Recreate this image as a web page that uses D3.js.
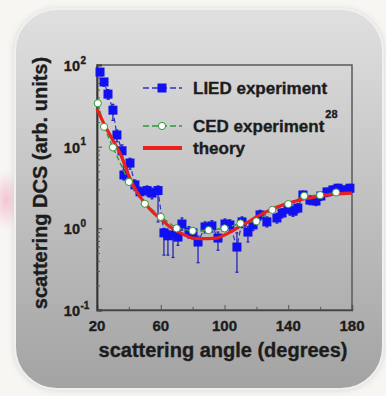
<!DOCTYPE html>
<html>
<head>
<meta charset="utf-8">
<script src="https://cdn.jsdelivr.net/npm/d3@7"></script>
<style>
  html, body { margin: 0; padding: 0; background: #f8f6f2; }
  svg { display: block; }
  text { font-family: "Liberation Sans", Arial, sans-serif; font-weight: bold; fill: #1c1c1c;
         stroke: #1c1c1c; stroke-width: 0.35; }
</style>
</head>
<body>
<svg id="chart" width="386" height="396"></svg>
<script>
// LIED measurement: angle (deg), DCS value, lower / upper error bounds
const liedAngle = [21.9, 24.4, 26.9, 30.0, 32.5, 35.7, 36.9, 40.7, 43.8, 47.0, 51.4, 54.5, 58.3,
  62.0, 64.5, 67.7, 70.8, 73.3, 77.7, 80.2, 83.4, 87.8, 92.1, 95.9, 100.3, 103.4, 107.8,
  111.0, 114.7, 117.9, 122.3, 126.6, 132.9, 136.1, 139.8, 143.0, 146.0, 149.2, 153.6,
  157.4, 160.5, 164.3, 168.0, 171.2, 175.0, 178.7];
const liedValue = [82, 62, 44, 28, 13.9, 8.9, 4.5, 6.3, 3.4, 2.8, 2.9, 2.7, 2.9,
  0.88, 0.81, 0.83, 0.78, 1.13, 0.90, 0.88, 0.68, 1.04, 1.07, 0.76, 1.13, 1.10, 0.59,
  1.20, 0.90, 1.10, 1.46, 1.20, 1.34, 1.54, 1.75, 1.62, 1.77, 2.56, 2.22,
  2.16, 2.49, 2.79, 2.95, 3.10, 2.95, 3.10];
const liedLow = [74, 55, 38, 21, 11.5, 7.5, 3.9, 5.3, 2.9, 2.4, 2.5, 2.3, 1.2,
  0.47, 0.47, 0.44, 0.62, 0.95, 0.76, 0.74, 0.38, 0.88, 0.90, 0.54, 0.96, 0.93, 0.29,
  1.02, 0.68, 0.94, 1.26, 1.04, 1.16, 1.34, 1.52, 1.40, 1.55, 2.25, 1.95,
  1.90, 2.20, 2.45, 2.60, 2.75, 2.60, 2.75];
const liedHigh = [90, 68, 50, 33, 16, 10.5, 5.2, 7.2, 3.9, 3.2, 3.3, 3.1, 3.3,
  1.00, 0.95, 0.97, 0.92, 1.34, 1.05, 1.02, 0.80, 1.20, 1.24, 0.90, 1.30, 1.27, 0.88,
  1.38, 1.05, 1.26, 1.66, 1.38, 1.52, 1.74, 2.00, 1.84, 2.00, 2.85, 2.50,
  2.42, 2.78, 3.10, 3.30, 3.45, 3.30, 3.45];

// CED reference measurement
const cedAngle = [20.5, 24.4, 30, 40, 50, 60, 70, 80, 90, 100, 110, 120, 130, 140, 150, 160, 170];
const cedValue = [34, 17.5, 9.8, 3.7, 2.0, 1.38, 1.0, 0.93, 0.95, 1.0, 1.15, 1.22, 1.68, 1.98, 2.5, 2.55, 2.75];

// Theoretical DCS
const theoryAngle = [20, 25, 30, 35, 40, 45, 50, 55, 60, 65, 70, 75, 80, 85, 90, 95, 100, 105,
  110, 115, 120, 125, 130, 135, 140, 145, 150, 155, 160, 165, 170, 175, 180];
const theoryValue = [29, 18, 12, 7.9, 4.4, 2.8, 2.04, 1.58, 1.3, 1.07, 0.93, 0.83, 0.76, 0.75, 0.75,
  0.76, 0.83, 0.93, 1.07, 1.2, 1.38, 1.55, 1.73, 1.88, 2.04, 2.16, 2.3, 2.38, 2.5, 2.57, 2.62, 2.68, 2.7];

// Axis ticks
const xTickValues = [20, 60, 100, 140, 180];
const xMinorTicks = [40, 80, 120, 160];
const yTickValues = [0.1, 1, 10, 100];
const yTickExponents = ["-1", "0", "1", "2"];

// Legend entries
const legendLabels = ["LIED experiment", "CED experiment", "theory"];
const legendSup = ["", "28", ""];

const svg = d3.select("#chart");
const defs = svg.append("defs");

// panel gradient and shadow
const grad = defs.append("linearGradient").attr("id", "panelGrad")
  .attr("x1", 0).attr("y1", 0).attr("x2", 0).attr("y2", 1);
grad.append("stop").attr("offset", "0%").attr("stop-color", "#e0e0e0");
grad.append("stop").attr("offset", "45%").attr("stop-color", "#c4c4c4");
grad.append("stop").attr("offset", "100%").attr("stop-color", "#a3a3a3");

const shadow = defs.append("filter").attr("id", "shadow")
  .attr("x", "-10%").attr("y", "-10%").attr("width", "120%").attr("height", "120%");
shadow.append("feGaussianBlur").attr("stdDeviation", 3);

const pinkGlow = defs.append("radialGradient").attr("id", "pinkGlow");
pinkGlow.append("stop").attr("offset", "0%").attr("stop-color", "#f2b8cc").attr("stop-opacity", 0.8);
pinkGlow.append("stop").attr("offset", "100%").attr("stop-color", "#f2b8cc").attr("stop-opacity", 0);

svg.append("ellipse").attr("cx", 6).attr("cy", 200).attr("rx", 14).attr("ry", 30)
  .attr("fill", "url(#pinkGlow)");

svg.append("rect").attr("x", 14).attr("y", 9).attr("width", 370).attr("height", 381)
  .attr("rx", 43).attr("fill", "#a0a0a0").attr("opacity", 0.4).attr("filter", "url(#shadow)");
svg.append("rect").attr("x", 15).attr("y", 9).attr("width", 368).attr("height", 380)
  .attr("rx", 42).attr("fill", "url(#panelGrad)")
  .attr("stroke", "#f0f0f0").attr("stroke-width", 2);

// scales
const x = d3.scaleLinear().domain([20, 180]).range([97, 352]);
const y = d3.scaleLog().domain([0.1, 100]).range([310, 65]);

// frame
svg.append("rect").attr("x", x(20)).attr("y", y(100))
  .attr("width", x(180) - x(20)).attr("height", y(0.1) - y(100))
  .attr("fill", "none").attr("stroke", "#5a5a5a").attr("stroke-width", 1.5);

// bottom axis: inward ticks
svg.append("g").attr("transform", `translate(0,${y(0.1)})`)
  .call(d3.axisBottom(x).tickValues(xTickValues).tickSize(-5).tickFormat(""))
  .call(g => g.select(".domain").attr("stroke", "#444").attr("stroke-width", 1.5))
  .call(g => g.selectAll(".tick line").attr("stroke", "#555"));
svg.append("g").attr("transform", `translate(0,${y(0.1)})`)
  .call(d3.axisBottom(x).tickValues(xMinorTicks).tickSize(-3).tickFormat(""))
  .call(g => g.select(".domain").remove())
  .call(g => g.selectAll(".tick line").attr("stroke", "#555"));

// left axis: inward decade and minor ticks
const minorY = [];
for (let e = -1; e < 2; e++) for (let m = 2; m < 10; m++) minorY.push(m * Math.pow(10, e));
svg.append("g").attr("transform", `translate(${x(20)},0)`)
  .call(d3.axisLeft(y).tickValues(yTickValues).tickSize(-5).tickFormat(""))
  .call(g => g.select(".domain").attr("stroke", "#333").attr("stroke-width", 1.8))
  .call(g => g.selectAll(".tick line").attr("stroke", "#444"));
svg.append("g").attr("transform", `translate(${x(20)},0)`)
  .call(d3.axisLeft(y).tickValues(minorY).tickSize(-3).tickFormat(""))
  .call(g => g.select(".domain").remove())
  .call(g => g.selectAll(".tick line").attr("stroke", "#555"));

// x tick labels
svg.append("g").selectAll("text").data(xTickValues).join("text")
  .attr("x", d => x(d)).attr("y", 331).attr("text-anchor", "middle")
  .attr("font-size", 15).text(d => d);

// y tick labels as powers of ten
const yl = svg.append("g").selectAll("g").data(yTickValues).join("g");
yl.append("text").attr("x", 80).attr("y", d => y(d) + 6).attr("text-anchor", "end")
  .attr("font-size", 14.5).text("10");
yl.append("text").attr("x", 80.5).attr("y", d => y(d) - 1.5).attr("text-anchor", "start")
  .attr("font-size", 10).text((d, i) => yTickExponents[i]);

// axis titles
svg.append("text").attr("x", 223).attr("y", 357).attr("text-anchor", "middle")
  .attr("font-size", 20).text("scattering angle (degrees)");
svg.append("text").attr("transform", "translate(47,183) rotate(-90)")
  .attr("text-anchor", "middle").attr("font-size", 20).text("scattering DCS (arb. units)");

const blue = "#1010f0", green = "#2e9a3a", red = "#e8201e";

// LIED series
const lied = liedAngle.map((a, i) => ({ a, v: liedValue[i], lo: liedLow[i], hi: liedHigh[i] }));
const eb = svg.append("g").attr("stroke", "#2626b8").attr("stroke-width", 1.3);
eb.selectAll("line.v").data(lied).join("line").attr("class", "v")
  .attr("x1", d => x(d.a)).attr("x2", d => x(d.a))
  .attr("y1", d => y(d.lo)).attr("y2", d => y(d.hi));
eb.selectAll("line.c1").data(lied).join("line").attr("class", "c1")
  .attr("x1", d => x(d.a) - 1.5).attr("x2", d => x(d.a) + 1.5)
  .attr("y1", d => y(d.lo)).attr("y2", d => y(d.lo));
eb.selectAll("line.c2").data(lied).join("line").attr("class", "c2")
  .attr("x1", d => x(d.a) - 1.5).attr("x2", d => x(d.a) + 1.5)
  .attr("y1", d => y(d.hi)).attr("y2", d => y(d.hi));

svg.append("path").datum(lied)
  .attr("d", d3.line().x(d => x(d.a)).y(d => y(d.v)))
  .attr("fill", "none").attr("stroke", "#3030c8").attr("stroke-width", 1.2)
  .attr("stroke-dasharray", "5,3");
svg.append("g").selectAll("rect").data(lied).join("rect")
  .attr("x", d => x(d.a) - 4.5).attr("y", d => y(d.v) - 4.5)
  .attr("width", 9).attr("height", 9).attr("fill", blue);

// CED series
const ced = cedAngle.map((a, i) => ({ a, v: cedValue[i] }));
svg.append("path").datum(ced)
  .attr("d", d3.line().x(d => x(d.a)).y(d => y(d.v)))
  .attr("fill", "none").attr("stroke", green).attr("stroke-width", 1.5)
  .attr("stroke-dasharray", "5,3");

// theory curve
const theory = theoryAngle.map((a, i) => ({ a, v: theoryValue[i] }));
svg.append("path").datum(theory)
  .attr("d", d3.line().curve(d3.curveMonotoneX).x(d => x(d.a)).y(d => y(d.v)))
  .attr("fill", "none").attr("stroke", red).attr("stroke-width", 3.2);

svg.append("g").selectAll("circle").data(ced).join("circle")
  .attr("cx", d => x(d.a)).attr("cy", d => y(d.v)).attr("r", 3.6)
  .attr("fill", "#ffffff").attr("stroke", green).attr("stroke-width", 1);

// legend
const legY = [88, 126, 148];
const lg = svg.append("g");
lg.append("line").attr("x1", 143).attr("x2", 182).attr("y1", legY[0]).attr("y2", legY[0])
  .attr("stroke", "#3030c8").attr("stroke-width", 1.4).attr("stroke-dasharray", "6,3");
lg.append("rect").attr("x", 157.5).attr("y", legY[0] - 4.5).attr("width", 9).attr("height", 9).attr("fill", blue);
lg.append("line").attr("x1", 143).attr("x2", 182).attr("y1", legY[1]).attr("y2", legY[1])
  .attr("stroke", green).attr("stroke-width", 1.6).attr("stroke-dasharray", "6,3");
lg.append("circle").attr("cx", 162).attr("cy", legY[1]).attr("r", 3.6)
  .attr("fill", "#fff").attr("stroke", green);
lg.append("line").attr("x1", 143).attr("x2", 182).attr("y1", legY[2]).attr("y2", legY[2])
  .attr("stroke", red).attr("stroke-width", 4);
legendLabels.forEach((t, i) => {
  const tx = lg.append("text").attr("x", 193).attr("y", legY[i] + 6).attr("font-size", 17).text(t);
  if (legendSup[i]) {
    const w = tx.node().getComputedTextLength();
    lg.append("text").attr("x", 193 + w + 1).attr("y", legY[i] - 8)
      .attr("font-size", 11).text(legendSup[i]);
  }
});
</script>
</body>
</html>
